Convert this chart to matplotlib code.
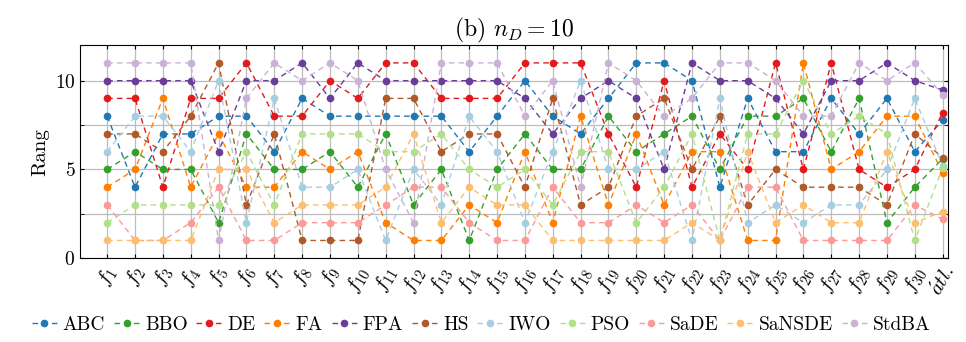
import numpy as np
import matplotlib
matplotlib.use('Agg')
import matplotlib.pyplot as plt

plt.rcParams['font.family'] = ['cmr10', 'DejaVu Serif']
plt.rcParams['mathtext.fontset'] = 'cm'
plt.rcParams['axes.unicode_minus'] = False
plt.rcParams['axes.formatter.use_mathtext'] = True
plt.rcParams['font.size'] = 14

# rangok f1..f30, utolsó oszlop az átlag
abc = [8, 4, 7, 7, 8, 8, 6, 9, 8, 8, 8, 8, 8, 6, 8, 10, 8, 7, 9, 11, 11, 10, 4, 9, 6, 6, 9, 7, 9, 6, 7.77]
bbo = [5, 6, 5, 5, 2, 7, 5, 5, 6, 4, 7, 3, 5, 1, 5, 7, 5, 5, 8, 6, 7, 8, 5, 8, 8, 9, 6, 9, 2, 4, 5.6]
de = [9, 9, 4, 9, 9, 11, 8, 8, 10, 9, 11, 11, 9, 9, 9, 11, 11, 11, 7, 4, 10, 4, 7, 5, 11, 5, 11, 5, 4, 5, 8.2]
fa = [4, 5, 9, 4, 7, 4, 4, 6, 5, 6, 2, 1, 1, 3, 2, 6, 2, 8, 3, 7, 3, 6, 6, 1, 1, 11, 5, 6, 8, 8, 4.8]
fpa = [10, 10, 10, 10, 6, 10, 10, 11, 9, 11, 10, 10, 10, 10, 10, 9, 7, 9, 10, 9, 5, 11, 10, 10, 9, 7, 10, 10, 11, 10, 9.47]
hs = [7, 7, 6, 8, 11, 3, 7, 1, 1, 1, 9, 9, 6, 7, 7, 4, 9, 3, 4, 8, 9, 5, 8, 3, 5, 4, 4, 4, 3, 7, 5.67]
iwo = [6, 8, 8, 6, 10, 2, 9, 4, 4, 5, 1, 5, 3, 8, 6, 2, 6, 10, 5, 5, 6, 1, 9, 2, 3, 2, 3, 3, 5, 9, 5.2]
pso = [2, 3, 3, 3, 3, 6, 3, 7, 7, 7, 6, 6, 7, 5, 4, 5, 3, 6, 6, 2, 4, 7, 1, 7, 7, 10, 7, 8, 7, 1, 5.1]
sade = [3, 1, 1, 2, 4, 1, 1, 2, 2, 2, 3, 4, 4, 2, 1, 1, 4, 2, 2, 3, 2, 3, 1, 4, 4, 1, 1, 1, 1, 3, 2.2]
sansde = [1, 1, 1, 1, 5, 5, 2, 3, 3, 3, 4, 7, 2, 4, 3, 3, 1, 1, 1, 1, 1, 2, 1, 6, 2, 3, 2, 2, 6, 2, 2.63]
stdba = [11, 11, 11, 11, 1, 9, 11, 10, 11, 10, 5, 2, 11, 11, 11, 8, 10, 4, 11, 10, 8, 9, 11, 11, 10, 8, 8, 11, 10, 11, 9.2]

labels = ['ABC', 'BBO', 'DE', 'FA', 'FPA', 'HS', 'IWO', 'PSO', 'SaDE', 'SaNSDE', 'StdBA']
series = [abc, bbo, de, fa, fpa, hs, iwo, pso, sade, sansde, stdba]
xticklabels = [r'$f_{%d}$' % i for i in range(1, 31)] + [r'$\acute{a}tl.$']

colors = ['#1f78b4', '#33a02c', '#e31a1c', '#ff7f00', '#6a3d9a', '#b15928',
          '#a6cee3', '#b2df8a', '#fb9a99', '#fdbf6f', '#cab2d6']

fig, ax = plt.subplots(figsize=(9.66, 3.42), dpi=100)
x = np.arange(1, 32)
for vals, lab, c in zip(series, labels, colors):
    ax.plot(x, vals, 'o--', lw=1, markersize=4.5, color=c, label=lab, dashes=(4, 3))

ax.set_xlim(0.03, 31.18)
ax.set_ylim(0, 12)
ax.set_xticks(x)
ax.set_xticklabels(xticklabels, rotation=60, fontsize=15)
ax.set_yticks([0, 5, 10])
ax.set_yticks([2.5, 7.5], minor=True)
ax.tick_params(direction='in', top=True, right=True, which='both', length=3)
ax.tick_params(axis='y', labelsize=14)
ax.grid(True, which='major', color='#bdbdbd', lw=0.9)
ax.grid(True, which='minor', axis='y', color='#bdbdbd', lw=0.9)
ax.set_axisbelow(True)
ax.set_ylabel('Rang', fontsize=15)
ax.set_title(r'(b) $n_D = 10$', fontsize=17, pad=6)

ax.legend(loc='center', bbox_to_anchor=(0.462, -0.315), ncol=11, frameon=False,
          fontsize=14, handlelength=1.3, handletextpad=0.3, columnspacing=0.45,
          borderaxespad=0)

plt.subplots_adjust(left=0.083, right=0.981, top=0.868, bottom=0.245)
plt.savefig('out.png', dpi=100)
